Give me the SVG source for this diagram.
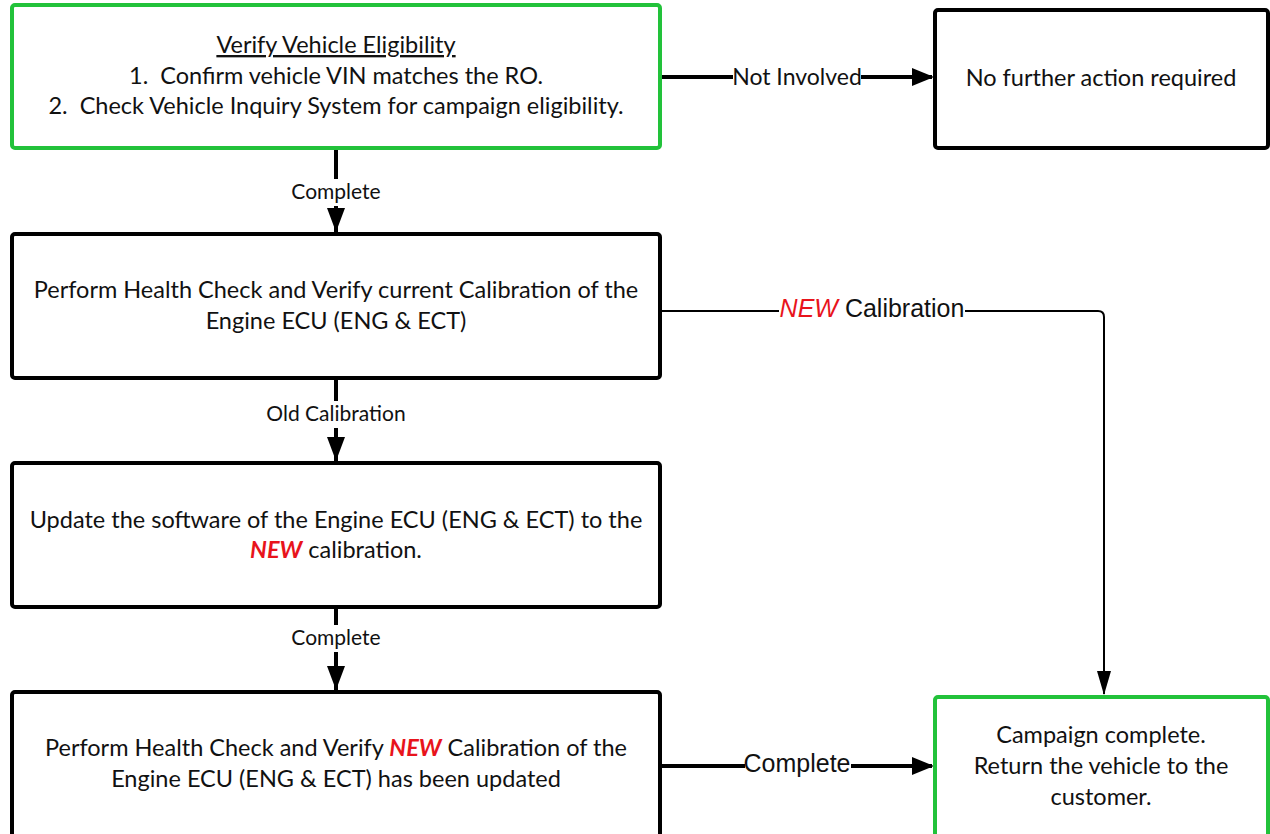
<svg xmlns="http://www.w3.org/2000/svg" width="1270" height="834" viewBox="0 0 1270 834">
<defs>
<style>
.box{fill:#fff;stroke:#000;stroke-width:4}
.green{stroke:#22c23a}
.t{font-family:Lato,"Open Sans",sans-serif;font-size:23.5px;fill:#111;text-anchor:middle}
.lbl{font-family:Lato,"Open Sans",sans-serif;font-size:21px;fill:#111;text-anchor:middle}
.arial{font-family:"Liberation Sans",Arial,sans-serif;font-size:25px;fill:#111;text-anchor:middle}
.red{fill:#e8141c}
.conn{fill:none;stroke:#000;stroke-width:4}
.thin{fill:none;stroke:#000;stroke-width:2}
.bg{fill:#fff}
</style>
</defs>
<rect width="1270" height="834" fill="#fff"/>
<g id="connectors">
<path class="conn" d="M660,77 H932"/>
<path d="M912,68 L934,77 L912,86 z" fill="#000"/>
<rect class="bg" x="733" y="64" width="128" height="26"/>
<text class="lbl" x="797" y="85" style="font-size:23px">Not Involved</text>

<path class="conn" d="M336,149 V232"/>
<path d="M327,208 L336,232 L345,208 z" fill="#000"/>
<rect class="bg" x="289" y="179" width="94" height="27"/>
<text class="lbl" x="336" y="199">Complete</text>

<path class="conn" d="M336,378 V461"/>
<path d="M327,437 L336,461 L345,437 z" fill="#000"/>
<rect class="bg" x="265" y="401" width="142" height="27"/>
<text class="lbl" x="336" y="421">Old Calibration</text>

<path class="conn" d="M336,607 V690"/>
<path d="M327,666 L336,690 L345,666 z" fill="#000"/>
<rect class="bg" x="289" y="625" width="94" height="27"/>
<text class="lbl" x="336" y="645">Complete</text>

<path class="thin" d="M660,311 H1098 Q1104,311 1104,317 V694"/>
<path d="M1097,671 L1104,695 L1111,671 z" fill="#000"/>
<rect class="bg" x="779" y="295" width="186" height="28"/>
<text class="arial" x="872" y="317"><tspan class="red" font-style="italic">NEW</tspan> Calibration</text>

<path class="conn" d="M660,766 H932"/>
<path d="M912,757 L934,766 L912,775 z" fill="#000"/>
<rect class="bg" x="745" y="749" width="106" height="28"/>
<text class="arial" x="797" y="772">Complete</text>
</g>

<g id="verify">
<rect class="box green" x="12" y="5" width="648" height="143" rx="3"/>
<text class="t" x="336" y="53" text-decoration="underline">Verify Vehicle Eligibility</text>
<text class="t" x="336" y="84" xml:space="preserve">1.  Confirm vehicle VIN matches the RO.</text>
<text class="t" x="336" y="114" xml:space="preserve">2.  Check Vehicle Inquiry System for campaign eligibility.</text>
</g>
<g id="no-action">
<rect class="box" x="935" y="10" width="333" height="138" rx="3"/>
<text class="t" x="1101" y="86">No further action required</text>
</g>
<g id="health-check">
<rect class="box" x="12" y="234" width="648" height="144" rx="3"/>
<text class="t" x="336" y="298">Perform Health Check and Verify current Calibration of the</text>
<text class="t" x="336" y="329">Engine ECU (ENG &amp; ECT)</text>
</g>
<g id="update">
<rect class="box" x="12" y="463" width="648" height="144" rx="3"/>
<text class="t" x="336" y="528">Update the software of the Engine ECU (ENG &amp; ECT) to the</text>
<text class="t" x="336" y="558"><tspan class="red" font-weight="bold" font-style="italic">NEW</tspan> calibration.</text>
</g>
<g id="verify-new">
<rect class="box" x="12" y="692" width="648" height="150" rx="3"/>
<text class="t" x="336" y="756">Perform Health Check and Verify <tspan class="red" font-weight="bold" font-style="italic">NEW</tspan> Calibration of the</text>
<text class="t" x="336" y="787">Engine ECU (ENG &amp; ECT) has been updated</text>
</g>
<g id="campaign-complete">
<rect class="box green" x="935" y="697" width="333" height="145" rx="3"/>
<text class="t" x="1101" y="743">Campaign complete.</text>
<text class="t" x="1101" y="774">Return the vehicle to the</text>
<text class="t" x="1101" y="805">customer.</text>
</g>
</svg>
